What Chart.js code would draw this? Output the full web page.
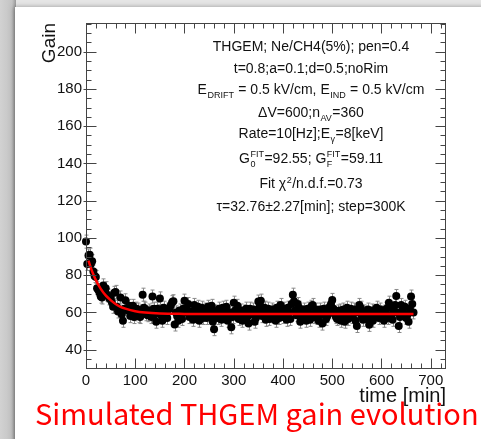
<!DOCTYPE html>
<html lang="en">
<head>
    <meta charset="UTF-8">
    <title>Simulated THGEM gain evolution</title>
    <script src="https://cdn.jsdelivr.net/npm/chart.js"></script>
    <style>
        * { margin: 0; padding: 0; box-sizing: border-box; }
        body { background: #fff; overflow: hidden; }
        #gain-chart { display: block; }
    </style>
</head>
<body>
    <canvas id="gain-chart" width="481" height="439"></canvas>

    <script>
        // measured points (time in minutes, gain)
        const times = [
            0, 5, 10, 15, 20, 25, 30, 35, 40, 45, 50, 55, 60, 65, 70, 75, 80, 85, 90, 95,
            100, 105, 110, 115, 120, 125, 130, 135, 140, 145, 150, 155, 160, 165, 170, 175, 180, 185, 190, 195,
            200, 205, 210, 215, 220, 225, 230, 235, 240, 245, 250, 255, 260, 265, 270, 275, 280, 285, 290, 295,
            300, 305, 310, 315, 320, 325, 330, 335, 340, 345, 350, 355, 360, 365, 370, 375, 380, 385, 390, 395,
            400, 405, 410, 415, 420, 425, 430, 435, 440, 445, 450, 455, 460, 465, 470, 475, 480, 485, 490, 495,
            500, 505, 510, 515, 520, 525, 530, 535, 540, 545, 550, 555, 560, 565, 570, 575, 580, 585, 590, 595,
            600, 605, 610, 615, 620, 625, 630, 635, 640, 645, 650, 655, 660, 665
        ];
        const gains = [
            98, 90.5, 86, 82, 79, 72, 68.5, 74.5, 73, 69, 67.5, 63, 71, 60.5, 68, 55.5, 66.5, 61, 58, 63.5,
            59, 61.5, 57.5, 69.5, 62, 58.5, 60, 68.5, 59, 62, 67.5, 55.5, 60.5, 57, 62.5, 65.5, 53.5, 58, 61, 56.5,
            66.3, 62, 57.5, 60.5, 64, 58, 55.5, 62.5, 59.5, 57, 61.5, 63.5, 51, 58.5, 62, 56, 60, 63, 57.5, 52,
            65.2, 60, 56.5, 61, 58.5, 62, 54, 59, 61.5, 57, 65.8, 66.3, 59.5, 56, 62, 58, 60.5, 55.5, 61, 64,
            57.5, 59, 62.5, 56.5, 69.5, 61, 64.5, 55, 60, 58, 62, 56, 64, 59.5, 57, 61.5, 54, 60.5, 58, 63,
            66.7, 59, 56.5, 61, 58.5, 55, 62.5, 60, 57.5, 61.5, 52.7, 64, 58, 60.5, 56.5, 53.3, 61, 59, 62.5, 57,
            60, 55.5, 62, 65.2, 58.5, 61, 68.8, 52.7, 64, 59.5, 57, 55, 68.5, 60
        ];
        // in-between samples
        const timesB = [
            2.5, 7.5, 12.5, 17.5, 22.5, 27.5, 32.5, 37.5, 42.5, 47.5, 52.5, 57.5, 62.5, 67.5, 72.5, 77.5, 82.5, 87.5, 92.5, 97.5,
            102.5, 107.5, 112.5, 117.5, 122.5, 127.5, 132.5, 137.5, 142.5, 147.5, 152.5, 157.5, 162.5, 167.5, 172.5, 177.5, 182.5, 187.5, 192.5, 197.5,
            202.5, 207.5, 212.5, 217.5, 222.5, 227.5, 232.5, 237.5, 242.5, 247.5, 252.5, 257.5, 262.5, 267.5, 272.5, 277.5, 282.5, 287.5, 292.5, 297.5,
            302.5, 307.5, 312.5, 317.5, 322.5, 327.5, 332.5, 337.5, 342.5, 347.5, 352.5, 357.5, 362.5, 367.5, 372.5, 377.5, 382.5, 387.5, 392.5, 397.5,
            402.5, 407.5, 412.5, 417.5, 422.5, 427.5, 432.5, 437.5, 442.5, 447.5, 452.5, 457.5, 462.5, 467.5, 472.5, 477.5, 482.5, 487.5, 492.5, 497.5,
            502.5, 507.5, 512.5, 517.5, 522.5, 527.5, 532.5, 537.5, 542.5, 547.5, 552.5, 557.5, 562.5, 567.5, 572.5, 577.5, 582.5, 587.5, 592.5, 597.5,
            602.5, 607.5, 612.5, 617.5, 622.5, 627.5, 632.5, 637.5, 642.5, 647.5, 652.5, 657.5, 662.5
        ];
        const gainsB = [
            86, 91, 87.5, 79.5, 73, 70.5, 68, 71.5, 69.5, 67.5, 65.5, 70.5, 63, 61.5, 59, 62, 61.5, 63.5, 60, 57.5,
            62, 58, 60.5, 62.5, 59, 61, 57.5, 62, 55, 60.5, 58.5, 62.5, 59, 61.5, 64, 66, 60, 55.5, 59, 62,
            60, 64.5, 58.5, 56, 61, 63, 59, 57, 61.5, 63, 58, 55, 60.5, 57, 59.5, 62.5, 58, 55.5, 60, 57.5,
            61, 63.5, 58, 55.5, 60.5, 57.5, 62, 60, 55, 61, 63, 58, 62.5, 59, 56.5, 61.5, 58.5, 62.5, 57, 60,
            62, 56, 60, 64.5, 66, 58.5, 62.5, 57.5, 61.5, 55.5, 59.5, 63, 57.5, 61.5, 55.5, 59, 62, 56.5, 60, 64.5,
            62, 57.5, 60.5, 55.5, 61.5, 59, 56.5, 62, 59, 55.5, 60, 62.5, 56, 59.5, 61.5, 58, 55.5, 60.5, 58.5, 61.5,
            58, 60.5, 57, 62.5, 56, 64, 60, 57.5, 61, 63, 58.5, 62, 64.5
        ];
        const gainErr = 3.5;

        // red fit curve
        const fitTimes = [5, 10, 15, 20, 30, 40, 50, 60, 70, 80, 100, 120, 150, 200, 300, 665];
        const fitGains = [87.8, 83.8, 80.3, 77.3, 72.6, 69.1, 66.6, 64.5, 63.0, 62.0, 60.6, 59.9, 59.4, 59.2, 59.1, 59.1];

        const xTicks = [0, 100, 200, 300, 400, 500, 600, 700];
        const yTicks = [40, 60, 80, 100, 120, 140, 160, 180, 200];

        const infoLines = [
            [['THGEM; Ne/CH4(5%); pen=0.4']],
            [['t=0.8;a=0.1;d=0.5;noRim']],
            [['E'], ['DRIFT', 'sub'], [' = 0.5 kV/cm, E'], ['IND', 'sub'], [' = 0.5 kV/cm']],
            [['\u0394V=600;n'], ['AV', 'sub'], ['=360']],
            [['Rate=10[Hz];E'], ['\u03b3', 'sub'], ['=8[keV]']],
            [['G'], ['0', 'subsup', 'FIT'], ['=92.55; G'], ['F', 'subsup', 'FIT'], ['=59.11']],
            [['Fit \u03c7'], ['2', 'sup'], ['/n.d.f.=0.73']],
            [['\u03c4=32.76\u00b12.27[min]; step=300K']]
        ];
        const infoBaselines = [51, 73, 94, 117, 138, 163, 188, 211];

        const FONT = "'Liberation Sans', Arial, sans-serif";

        const allTimes = times.concat(timesB);
        const allGains = gains.concat(gainsB);

        function drawRich(ctx, parts, cx, base) {
            const big = '14px ' + FONT, small = '9px ' + FONT;
            let widths = parts.map(p => {
                if (!p[1]) { ctx.font = big; return ctx.measureText(p[0]).width; }
                ctx.font = small;
                let w = ctx.measureText(p[0]).width;
                if (p[2]) w = Math.max(w, ctx.measureText(p[2]).width);
                return w + 1;
            });
            let x = cx - widths.reduce((a, b) => a + b, 0) / 2;
            parts.forEach((p, i) => {
                if (!p[1]) {
                    ctx.font = big; ctx.fillText(p[0], x, base);
                } else {
                    ctx.font = small;
                    if (p[1] === 'sub' || p[1] === 'subsup') ctx.fillText(p[0], x + 0.5, base + 4);
                    if (p[1] === 'sup') ctx.fillText(p[0], x + 0.5, base - 5);
                    if (p[1] === 'subsup') ctx.fillText(p[2], x + 0.5, base - 6);
                }
                x += widths[i];
            });
        }

        const rootStyle = {
            id: 'rootStyle',
            beforeDraw(chart) {
                const ctx = chart.ctx;
                ctx.save();
                ctx.fillStyle = '#e6e6e6';
                ctx.fillRect(0, 0, 481, 439);
                const g = ctx.createLinearGradient(0, 0, 16, 0);
                g.addColorStop(0, '#d2d2d2');
                g.addColorStop(0.75, '#c4c4c4');
                g.addColorStop(1, '#9a9a9a');
                ctx.fillStyle = g;
                ctx.fillRect(0, 0, 16, 439);
                ctx.shadowColor = 'rgba(0,0,0,0.35)';
                ctx.shadowBlur = 5;
                ctx.shadowOffsetX = -1;
                ctx.fillStyle = '#fff';
                ctx.fillRect(15, 7, 470, 440);
                ctx.restore();
            },
            beforeDatasetsDraw(chart) {
                const ctx = chart.ctx, xs = chart.scales.x, ys = chart.scales.y;
                ctx.save();
                ctx.strokeStyle = '#8a8a8a';
                ctx.lineWidth = 1;
                ctx.beginPath();
                allTimes.forEach((t, i) => {
                    const x = Math.round(xs.getPixelForValue(t)) + 0.5;
                    const y1 = ys.getPixelForValue(allGains[i] + gainErr);
                    const y2 = ys.getPixelForValue(allGains[i] - gainErr);
                    ctx.moveTo(x, y1); ctx.lineTo(x, y2);
                    ctx.moveTo(x - 2, y1); ctx.lineTo(x + 2, y1);
                    ctx.moveTo(x - 2, y2); ctx.lineTo(x + 2, y2);
                });
                ctx.stroke();
                ctx.restore();
            },
            afterDraw(chart) {
                const ctx = chart.ctx, a = chart.chartArea;
                const xs = chart.scales.x, ys = chart.scales.y;
                ctx.save();
                // frame + inward ticks on all four sides
                ctx.strokeStyle = '#444';
                ctx.lineWidth = 1;
                const L = Math.round(a.left) + 0.5, R = Math.round(a.right) - 0.5;
                const T = Math.round(a.top) + 0.5, B = Math.round(a.bottom) - 0.5;
                ctx.strokeRect(L, T, R - L, B - T);
                ctx.beginPath();
                for (let v = 0; v <= xs.max; v += 20) {
                    const x = Math.round(xs.getPixelForValue(v)) + 0.5;
                    const len = v % 100 === 0 ? 10 : 5;
                    ctx.moveTo(x, B); ctx.lineTo(x, B - len);
                    ctx.moveTo(x, T); ctx.lineTo(x, T + len);
                }
                for (let v = 30; v <= ys.max; v += 5) {
                    const y = Math.round(ys.getPixelForValue(v)) + 0.5;
                    const len = v % 20 === 0 ? 10 : 5;
                    ctx.moveTo(L - (len === 10 ? 3 : 0), y); ctx.lineTo(L + len, y);
                    ctx.moveTo(R, y); ctx.lineTo(R - len, y);
                }
                ctx.stroke();

                // axis titles
                ctx.fillStyle = '#111';
                ctx.font = '20px ' + FONT;
                ctx.textAlign = 'right';
                ctx.textBaseline = 'alphabetic';
                ctx.fillText('time [min]', a.right, 402);
                ctx.save();
                ctx.translate(55, a.top);
                ctx.rotate(-Math.PI / 2);
                ctx.font = '19px ' + FONT;
                ctx.fillText('Gain', 0, 0);
                ctx.restore();

                // fit info box
                ctx.textAlign = 'left';
                ctx.fillStyle = '#111';
                infoLines.forEach((parts, i) => drawRich(ctx, parts, 311, infoBaselines[i]));

                // caption
                const cap = 'Simulated THGEM gain evolution';
                ctx.font = "28px 'Noto Sans CJK SC', 'Noto Sans', sans-serif";
                const size = 28 * 443 / ctx.measureText(cap).width;
                ctx.font = size.toFixed(1) + "px 'Noto Sans CJK SC', 'Noto Sans', sans-serif";
                ctx.fillStyle = '#ff0000';
                ctx.fillText(cap, 35, 425);
                ctx.restore();
            }
        };

        const ctx = document.getElementById('gain-chart').getContext('2d');
        new Chart(ctx, {
            type: 'scatter',
            data: {
                datasets: [{
                    type: 'line',
                    label: 'fit',
                    data: fitTimes.map((t, i) => ({ x: t, y: fitGains[i] })),
                    borderColor: '#ff0000',
                    borderWidth: 2.5,
                    pointRadius: 0,
                    cubicInterpolationMode: 'monotone',
                    order: 0
                }, {
                    label: 'gain',
                    data: allTimes.map((t, i) => ({ x: t, y: allGains[i] })),
                    backgroundColor: '#000',
                    borderWidth: 0,
                    pointRadius: 4,
                    clip: false,
                    order: 1
                }]
            },
            options: {
                responsive: false,
                animation: false,
                devicePixelRatio: 1,
                layout: { padding: { top: 23, right: 35, left: 0, bottom: 0 } },
                plugins: { legend: { display: false }, tooltip: { enabled: false } },
                scales: {
                    x: {
                        type: 'linear',
                        min: 0,
                        max: 731,
                        afterBuildTicks: s => { s.ticks = xTicks.map(v => ({ value: v })); },
                        afterFit: s => { s.height = 70; },
                        grid: { display: false, drawTicks: false },
                        border: { display: false },
                        ticks: {
                            font: { family: FONT, size: 15 },
                            color: '#111',
                            padding: 3,
                            maxRotation: 0,
                            autoSkip: false
                        }
                    },
                    y: {
                        min: 29.6,
                        max: 215.4,
                        afterBuildTicks: s => { s.ticks = yTicks.map(v => ({ value: v })); },
                        afterFit: s => { s.width = 86; },
                        grid: { display: false, drawTicks: false },
                        border: { display: false },
                        ticks: {
                            font: { family: FONT, size: 15 },
                            color: '#111',
                            padding: 4,
                            autoSkip: false
                        }
                    }
                }
            },
            plugins: [rootStyle]
        });
    </script>
</body>
</html>
